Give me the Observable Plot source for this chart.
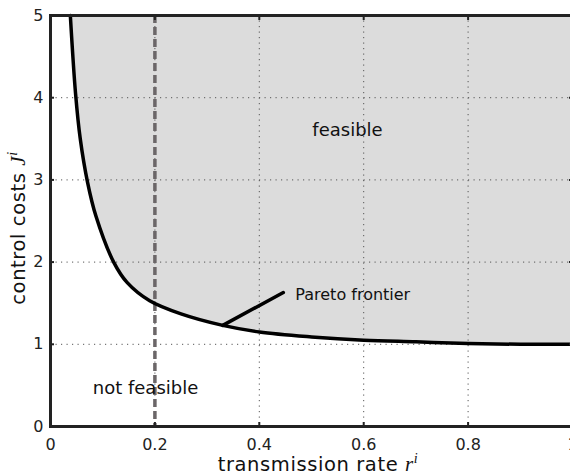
<!DOCTYPE html>
<html>
<head>
<meta charset="utf-8">
<script src="https://cdn.jsdelivr.net/npm/d3@7"></script>
<script src="https://cdn.jsdelivr.net/npm/@observablehq/plot@0.6"></script>
<style>
  html, body { margin: 0; padding: 0; background: #fff; }
  #chart svg { display: block; }
</style>
</head>
<body>
<div id="chart"></div>
<script>
// Pareto frontier
const rate = [0.038, 0.048, 0.057, 0.071, 0.087, 0.121, 0.147, 0.19, 0.25, 0.33, 0.4, 0.5, 0.6, 0.7, 0.8, 0.9, 1.0];
const cost = [5.0, 4.05, 3.5, 2.97, 2.56, 2.0, 1.75, 1.53, 1.37, 1.23, 1.15, 1.09, 1.05, 1.03, 1.01, 1.0, 1.0];

const xTicks = [0, 0.2, 0.4, 0.6, 0.8, 1];
const yTicks = [0, 1, 2, 3, 4, 5];
const xGrid = [0.2, 0.4, 0.6, 0.8];
const yGrid = [1, 2, 3, 4];

const thresholdRate = [0.2];

// pointer from curve to label
const pointerR = [0.33, 0.446];
const pointerJ = [1.23, 1.63];

const labels = ["feasible", "not feasible", "Pareto frontier"];
const labelR = [0.569, 0.182, 0.469];
const labelJ = [3.6, 0.47, 1.6];
const labelSize = [18, 18, 16];
const labelAnchor = ["middle", "middle", "start"];

const frontier = rate.map((r, i) => ({r, J: cost[i]}));
const pointer = pointerR.map((r, i) => ({r, J: pointerJ[i]}));
const ann = labels.map((t, i) => ({t, r: labelR[i], J: labelJ[i], s: labelSize[i], a: labelAnchor[i]}));

const font = "DejaVu Sans, sans-serif";
const mathFont = "Liberation Serif, DejaVu Serif, serif";

const chart = Plot.plot({
  width: 570,
  height: 476,
  marginLeft: 50,
  marginRight: -2,
  marginTop: 15,
  marginBottom: 50,
  style: {fontFamily: font, fontSize: "16px", color: "#222", background: "#fff"},
  x: {domain: [0, 1]},
  y: {domain: [0, 5]},
  marks: [
    Plot.areaY(frontier, {x: "r", y1: "J", y2: 5, fill: "#dcdcdc", curve: "catmull-rom"}),
    Plot.ruleX(xGrid, {stroke: "#555", strokeWidth: 1, strokeDasharray: "1.2,4.3"}),
    Plot.ruleY(yGrid, {stroke: "#555", strokeWidth: 1, strokeDasharray: "1.2,4.3"}),
    Plot.ruleX(thresholdRate, {stroke: "#6b6668", strokeWidth: 3.5, strokeDasharray: "8,4"}),
    Plot.line(frontier, {x: "r", y: "J", stroke: "#000", strokeWidth: 3.5, curve: "catmull-rom"}),
    Plot.line(pointer, {x: "r", y: "J", stroke: "#000", strokeWidth: 3.5, strokeLinecap: "round"}),
    Plot.text(ann.filter(d => d.a === "middle"), {x: "r", y: "J", text: "t", fontSize: "s", fill: "#111", fontFamily: font, textAnchor: "middle"}),
    Plot.text(ann.filter(d => d.a === "start"), {x: "r", y: "J", text: "t", fontSize: "s", fill: "#111", fontFamily: font, textAnchor: "start"}),
    Plot.axisX({ticks: xTicks, label: null, tickSize: -4, tickFormat: () => "", stroke: "#222", strokeWidth: 2}),
    Plot.axisX({ticks: xTicks, label: null, anchor: "top", tickSize: -4, tickFormat: () => "", stroke: "#222", strokeWidth: 2}),
    Plot.axisY({ticks: yTicks, label: null, tickSize: -4, tickFormat: () => "", stroke: "#222", strokeWidth: 2}),
    Plot.axisY({ticks: yTicks, label: null, anchor: "right", tickSize: -4, tickFormat: () => "", stroke: "#222", strokeWidth: 2}),
    Plot.axisX({ticks: xTicks, tickSize: 0, tickPadding: 12, fontSize: 16, label: null, tickFormat: d => String(d), fill: "#222"}),
    Plot.axisY({ticks: yTicks, tickSize: 0, tickPadding: 7, fontSize: 16, label: null, tickFormat: d => String(d), fill: "#222"}),
    Plot.frame({stroke: "#222", strokeWidth: 3})
  ]
});

const svg = d3.select(chart);
svg.style("overflow", "hidden");
const xl = svg.append("text")
  .attr("x", 318).attr("y", 471)
  .attr("text-anchor", "middle")
  .attr("fill", "#111")
  .style("font-family", font).style("font-size", "19.5px").style("letter-spacing", "0.6px");
xl.append("tspan").text("transmission rate ");
xl.append("tspan").text("r").style("font-family", mathFont).style("font-style", "italic").style("font-size", "21px");
xl.append("tspan").text("i").attr("dy", "-8").style("font-family", mathFont).style("font-style", "italic").style("font-size", "14px");

const yl = svg.append("text")
  .attr("transform", "translate(25,228) rotate(-90)")
  .attr("text-anchor", "middle")
  .attr("fill", "#111")
  .style("font-family", font).style("font-size", "19.5px").style("letter-spacing", "0.6px");
yl.append("tspan").text("control costs ");
yl.append("tspan").text("J").style("font-family", mathFont).style("font-style", "italic").style("font-size", "21px");
yl.append("tspan").text("i").attr("dy", "-8").style("font-family", mathFont).style("font-style", "italic").style("font-size", "14px");

document.getElementById("chart").appendChild(chart);
</script>
</body>
</html>
